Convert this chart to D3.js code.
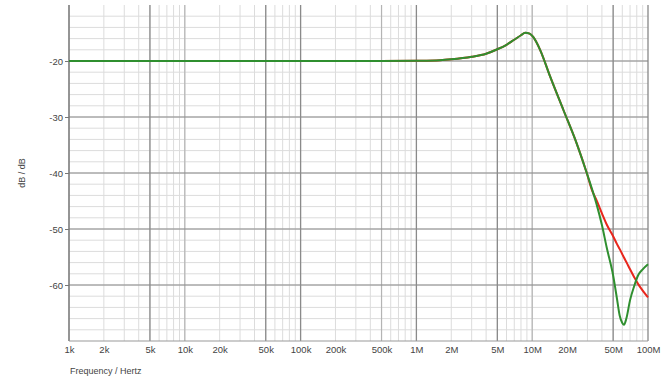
<!DOCTYPE html>
<html>
<head>
<meta charset="utf-8">
<script src="https://cdn.jsdelivr.net/npm/d3@7/dist/d3.min.js"></script>
<style>
  html, body { margin: 0; padding: 0; background: #fff; }
  svg { display: block; font-family: "Liberation Sans", Arial, sans-serif; }
</style>
</head>
<body>
<svg id="chart" width="669" height="378"></svg>
<script>
// Frequency response samples (Hz) and magnitudes (dB)
const freqs = [1e3, 1e4, 1e5, 5e5, 1e6, 1.6e6, 2e6, 3e6, 4e6, 5e6, 6e6, 7e6, 8e6, 8.7e6, 9.5e6,
  10.2e6, 11.7e6, 14.3e6, 18.6e6, 24.2e6, 29.6e6, 33e6, 36e6, 40e6, 44e6, 50e6, 54e6, 57e6,
  60e6, 62e6, 65e6, 70e6, 76e6, 82e6, 90e6, 100e6];
const redDb = [-20, -20, -20, -20, -19.95, -19.85, -19.7, -19.25, -18.7, -17.9, -17.1, -16.2,
  -15.4, -14.95, -15.1, -15.7, -18.0, -22.8, -28.75, -34.7, -40.0, -43.2, -44.9, -47.2, -49.2,
  -51.3, -52.7, -53.6, -54.5, -55.1, -55.9, -57.2, -58.6, -59.8, -61.0, -62.2];
const greenDb = [-20, -20, -20, -20, -19.95, -19.85, -19.7, -19.25, -18.7, -17.9, -17.1, -16.2,
  -15.4, -14.95, -15.1, -15.7, -18.0, -22.8, -28.75, -34.7, -40.0, -43.0, -45.6, -49.3, -53.3,
  -58.3, -62.5, -65.5, -66.8, -67.1, -66.0, -62.7, -60.2, -58.3, -57.2, -56.3];

const xTicks = [1e3, 2e3, 5e3, 1e4, 2e4, 5e4, 1e5, 2e5, 5e5, 1e6, 2e6, 5e6, 1e7, 2e7, 5e7, 1e8];
const xTickLabels = ["1k", "2k", "5k", "10k", "20k", "50k", "100k", "200k", "500k", "1M", "2M", "5M", "10M", "20M", "50M", "100M"];
const yTicks = [-20, -30, -40, -50, -60];
const darkGrid = [5e3, 5e4, 1e5, 1e6, 5e6, 5e7];
const midGrid = [1e4, 5e5, 1e7];

const svg = d3.select("#chart");
const x = d3.scaleLog().domain([1e3, 1e8]).range([69, 648]);
const y = d3.scaleLinear().domain([-70, -10]).range([341, 5]);

// light minor grid
const minorX = [];
for (let e = 3; e < 8; e++) for (let k = 1; k <= 9; k++) minorX.push(k * Math.pow(10, e));
const gridG = svg.append("g");
gridG.selectAll("line.vminor").data(minorX).join("line")
  .attr("x1", d => x(d)).attr("x2", d => x(d))
  .attr("y1", y(-10)).attr("y2", y(-70))
  .attr("stroke", "#dcdcdc").attr("stroke-width", 1);
const minorY = d3.range(-68, -10, 2);
gridG.selectAll("line.hminor").data(minorY).join("line")
  .attr("x1", x(1e3)).attr("x2", x(1e8))
  .attr("y1", d => y(d)).attr("y2", d => y(d))
  .attr("stroke", "#dcdcdc").attr("stroke-width", 1);

// emphasised grid
gridG.selectAll("line.vmid").data(midGrid).join("line")
  .attr("x1", d => x(d)).attr("x2", d => x(d))
  .attr("y1", y(-10)).attr("y2", y(-70))
  .attr("stroke", "#b4b4b4").attr("stroke-width", 1.2);
gridG.selectAll("line.vdark").data(darkGrid).join("line")
  .attr("x1", d => x(d)).attr("x2", d => x(d))
  .attr("y1", y(-10)).attr("y2", y(-70))
  .attr("stroke", "#8a8a8a").attr("stroke-width", 1.3);
gridG.selectAll("line.hmajor").data(yTicks).join("line")
  .attr("x1", x(1e3)).attr("x2", x(1e8))
  .attr("y1", d => y(d)).attr("y2", d => y(d))
  .attr("stroke", "#8a8a8a").attr("stroke-width", 1.2);

// frame lines: left, right, bottom
svg.append("line").attr("x1", x(1e3)).attr("x2", x(1e3)).attr("y1", y(-10)).attr("y2", y(-70))
  .attr("stroke", "#777").attr("stroke-width", 1.5);
svg.append("line").attr("x1", x(1e8)).attr("x2", x(1e8)).attr("y1", y(-10)).attr("y2", y(-70))
  .attr("stroke", "#888").attr("stroke-width", 1.3);
svg.append("line").attr("x1", x(1e3)).attr("x2", x(1e8)).attr("y1", y(-70)).attr("y2", y(-70))
  .attr("stroke", "#999").attr("stroke-width", 1.2);

// y axis (plain hyphen for negative values)
const yAxis = d3.axisLeft(y).tickValues(yTicks).tickSize(4).tickPadding(2)
  .tickFormat(d => (d < 0 ? "-" : "") + Math.abs(d));
const gy = svg.append("g").attr("transform", `translate(${x(1e3)},0)`).call(yAxis);
gy.select(".domain").remove();
gy.selectAll(".tick line").attr("stroke", "#777");
gy.selectAll("text").attr("fill", "#444").style("font-size", "9.5px");

// x axis
const xAxis = d3.axisBottom(x).tickValues(xTicks).tickSize(0).tickPadding(5)
  .tickFormat((d, i) => xTickLabels[i]);
const gx = svg.append("g").attr("transform", `translate(0,${y(-70)})`).call(xAxis);
gx.select(".domain").remove();
gx.selectAll("text").attr("fill", "#444").style("font-size", "9.5px");

// axis titles
svg.append("text").attr("x", 70).attr("y", 374).attr("fill", "#444")
  .style("font-size", "9px").text("Frequency / Hertz");
svg.append("text").attr("transform", `translate(25,${y(-40)}) rotate(-90)`)
  .attr("text-anchor", "middle").attr("fill", "#444")
  .style("font-size", "9px").text("dB / dB");

// response curves
const line = vals => d3.line()
  .x((d, i) => x(freqs[i]))
  .y(d => y(d))
  .curve(d3.curveMonotoneX)(vals);

svg.append("path").attr("d", line(redDb)).attr("fill", "none")
  .attr("stroke", "#e8261c").attr("stroke-width", 2);
svg.append("path").attr("d", line(greenDb)).attr("fill", "none")
  .attr("stroke", "#2f8f2f").attr("stroke-width", 2);
</script>
</body>
</html>
